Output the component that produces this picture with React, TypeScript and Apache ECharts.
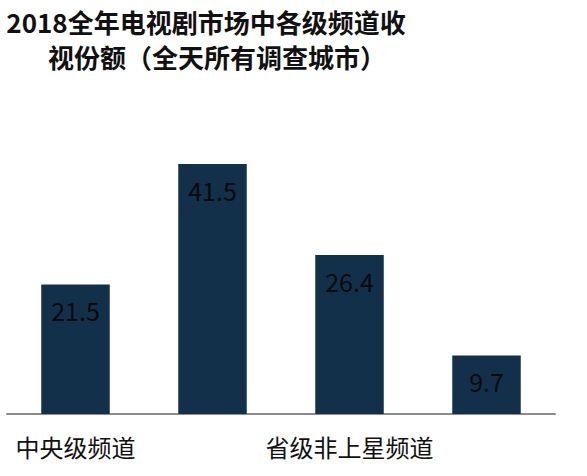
import React, { useEffect, useRef } from 'react';
import * as echarts from 'echarts';

const categories = ['中央级频道', '省级上星频道', '省级非上星频道', '城市频道'];
const shareValues = [21.5, 41.5, 26.4, 9.7];
const titleLines = ['2018全年电视剧市场中各级频道收', '视份额（全天所有调查城市）'];

const FONT = '"Noto Sans CJK SC", "Noto Sans", sans-serif';

const titleStyle = {
  fontFamily: FONT,
  fontSize: 26,
  fontWeight: 'bold',
  color: '#111111',
  lineHeight: 36,
};

export default function App() {
  const chartRef = useRef<HTMLDivElement>(null);

  useEffect(() => {
    if (!chartRef.current) return;
    const chart = echarts.init(chartRef.current, null, { renderer: 'svg' });

    const option = {
      animation: false,
      title: [
        {
          text: titleLines[0],
          left: 206,
          top: 3,
          padding: 0,
          textAlign: 'center',
          textStyle: titleStyle,
        },
        {
          text: titleLines[1],
          left: 217,
          top: 38,
          padding: 0,
          textAlign: 'center',
          textStyle: titleStyle,
        },
      ],
      grid: {
        left: 7,
        right: 32,
        top: 143,
        bottom: 62,
        containLabel: false,
      },
      xAxis: {
        type: 'category',
        data: categories,
        axisLine: { show: true, lineStyle: { color: '#8c8c8c', width: 2 } },
        axisTick: { show: false },
        axisLabel: {
          interval: 1,
          margin: 20,
          fontFamily: FONT,
          fontSize: 24,
          color: '#111111',
        },
      },
      yAxis: {
        type: 'value',
        min: 0,
        max: 45,
        show: false,
        splitLine: { show: false },
      },
      series: [
        {
          type: 'bar',
          data: shareValues,
          barWidth: '50%',
          itemStyle: { color: '#13304a' },
          label: {
            show: true,
            position: 'insideTop',
            distance: 13,
            fontFamily: FONT,
            fontSize: 25,
            color: '#0a0a0a',
          },
        },
      ],
    };

    chart.setOption(option);

    return () => {
      chart.dispose();
    };
  }, []);

  return (
    <div
      ref={chartRef}
      style={{ position: 'fixed', left: 0, top: 0, width: 587, height: 476, background: '#ffffff' }}
    />
  );
}
